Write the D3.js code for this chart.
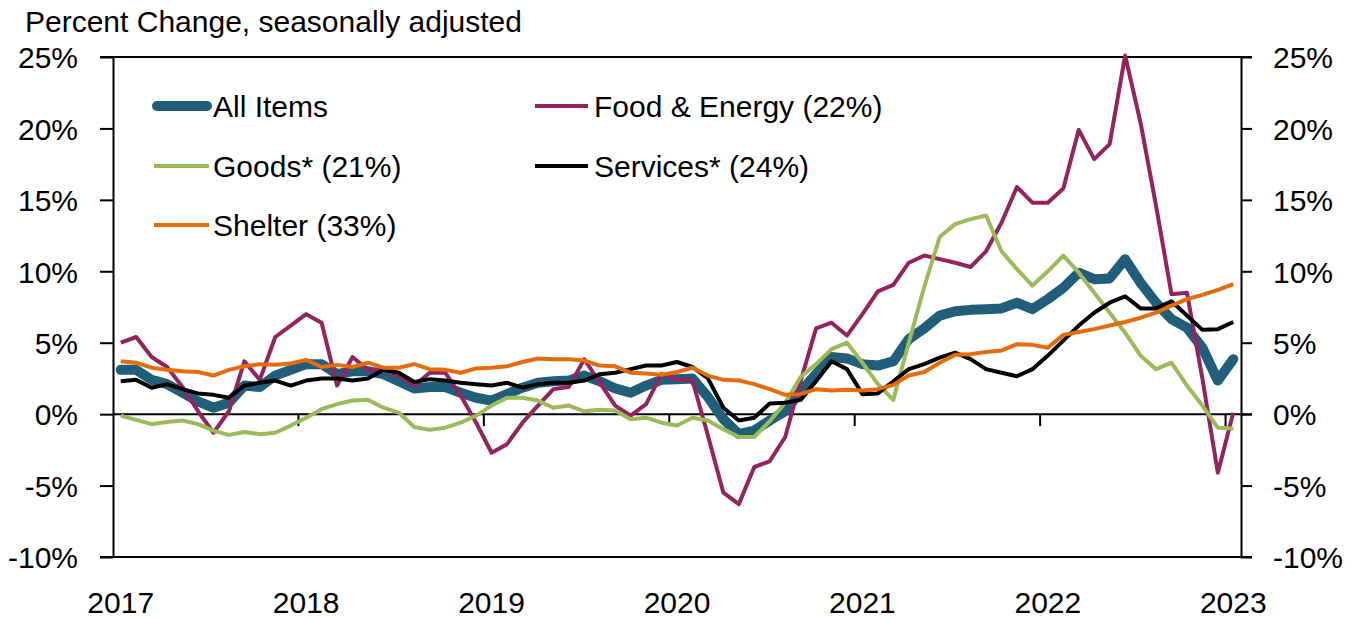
<!DOCTYPE html>
<html>
<head>
<meta charset="utf-8">
<script src="https://cdn.jsdelivr.net/npm/d3@7"></script>
<style>
  html, body { margin: 0; padding: 0; background: #fff; }
  svg { display: block; }
  text { font-family: "Liberation Sans", Arial, sans-serif; fill: #000; }
</style>
</head>
<body>
<svg id="chart" width="1354" height="619"></svg>
<script>
// ---------- DATA (monthly, Jan 2017 .. Jan 2023) ----------
const allItems = [3.1,3.1,2.4,2.1,1.5,0.9,0.45,0.8,2.0,1.9,2.7,3.1,
  3.5,3.5,2.8,3.0,3.0,2.8,2.3,1.8,1.9,1.9,1.5,1.15,
  0.95,1.4,1.85,2.2,2.3,2.35,2.7,2.3,1.8,1.5,2.0,2.4,
  2.45,2.5,1.2,-0.35,-1.4,-1.15,-0.45,0.2,1.6,2.8,4.0,3.9,
  3.5,3.4,3.7,5.25,6.0,6.9,7.2,7.3,7.35,7.4,7.8,7.35,
  8.05,8.85,9.9,9.45,9.5,10.85,9.2,7.8,6.65,6.05,4.65,2.35,
  3.85];
const foodEnergy = [5.0,5.4,4.0,3.3,1.9,0.2,-1.3,0.2,3.7,2.4,5.4,6.2,
  7.0,6.4,2.0,4.0,3.1,3.1,2.7,2.0,2.9,2.9,1.3,-0.6,
  -2.7,-2.1,-0.6,0.6,1.75,1.9,3.85,2.2,0.6,-0.1,0.7,2.8,
  2.45,2.35,-1.5,-5.5,-6.3,-3.7,-3.3,-1.6,2.3,6.0,6.4,5.5,
  7.0,8.6,9.05,10.6,11.1,10.85,10.6,10.3,11.4,13.4,15.9,14.8,
  14.8,15.8,19.9,17.85,18.9,25.1,20.4,14.6,8.4,8.5,2.5,-4.1,
  0.1];
const goods = [-0.1,-0.4,-0.7,-0.55,-0.45,-0.7,-1.15,-1.45,-1.25,-1.4,-1.3,-0.8,
  -0.25,0.35,0.7,0.95,1.0,0.45,0.1,-0.9,-1.1,-0.95,-0.6,-0.1,
  0.6,1.15,1.15,0.95,0.45,0.6,0.2,0.3,0.25,-0.35,-0.25,-0.6,
  -0.8,-0.25,-0.45,-1.05,-1.6,-1.6,-0.5,0.8,2.6,3.5,4.55,5.0,
  3.6,2.1,1.0,5.0,8.9,12.4,13.3,13.65,13.9,11.4,10.15,9.0,
  10.0,11.1,9.9,8.5,7.1,5.7,4.1,3.15,3.6,2.0,0.6,-0.95,
  -1.0];
const services = [2.3,2.4,1.85,2.1,1.75,1.45,1.35,1.15,2.0,2.2,2.35,2.0,
  2.35,2.5,2.5,2.35,2.5,3.1,2.9,2.25,2.45,2.35,2.2,2.1,
  2.0,2.2,1.85,2.1,2.2,2.2,2.35,2.8,2.9,3.15,3.4,3.4,
  3.65,3.3,2.5,0.45,-0.45,-0.25,0.75,0.8,1.0,2.3,3.7,3.15,
  1.4,1.45,2.3,3.15,3.5,3.95,4.3,3.85,3.15,2.9,2.65,3.15,
  4.1,5.15,6.2,7.1,7.8,8.25,7.4,7.4,7.9,6.9,5.9,5.95,
  6.45];
const shelter = [3.7,3.6,3.25,3.1,3.0,2.95,2.7,3.1,3.35,3.5,3.45,3.55,
  3.8,3.3,3.45,3.3,3.6,3.25,3.25,3.5,3.15,3.1,2.9,3.2,
  3.25,3.35,3.65,3.9,3.85,3.85,3.75,3.4,3.35,2.9,2.85,2.75,
  2.95,3.25,2.7,2.4,2.35,2.1,1.75,1.35,1.4,1.75,1.65,1.7,
  1.65,1.75,2.05,2.7,2.95,3.6,4.15,4.2,4.35,4.45,4.9,4.85,
  4.65,5.55,5.75,5.95,6.2,6.45,6.75,7.1,7.6,8.05,8.35,8.7,
  9.1];

const yTicks = [-10, -5, 0, 5, 10, 15, 20, 25];
const yearLabels = ["2017","2018","2019","2020","2021","2022","2023"];
const titleText = "Percent Change, seasonally adjusted";

const seriesNames = ["All Items","Food & Energy (22%)","Goods* (21%)","Services* (24%)","Shelter (33%)"];

(function () {
// ---------- LAYOUT ----------
const pL = 113, pR = 1241, pT = 57, pB = 557;
const svg = d3.select("#chart");

const months = d3.timeMonth.range(new Date(2017, 0, 1), new Date(2023, 1, 1)); // 73 months
const x = d3.scaleBand().domain(months.map(d => +d)).range([pL, pR]).paddingInner(0).paddingOuter(0);
const bw = x.bandwidth();
const y = d3.scaleLinear().domain([-10, 25]).range([pB, pT]);

const series = [
  { name: seriesNames[0], values: allItems,   color: "#215E7A", width: 10 },
  { name: seriesNames[1], values: foodEnergy, color: "#93245E", width: 4 },
  { name: seriesNames[2], values: goods,      color: "#9BBB59", width: 4 },
  { name: seriesNames[3], values: services,   color: "#000000", width: 4 },
  { name: seriesNames[4], values: shelter,    color: "#E46C0A", width: 4 }
];

// ---------- AXES ----------
const axisColor = "#000";
svg.append("line").attr("x1", pL - 13).attr("x2", pR + 11).attr("y1", y(25)).attr("y2", y(25))
  .attr("stroke", axisColor).attr("stroke-width", 2);
svg.append("line").attr("x1", pL - 13).attr("x2", pR + 11).attr("y1", y(-10)).attr("y2", y(-10))
  .attr("stroke", axisColor).attr("stroke-width", 2);

const fmt = d => d + "%";
const gL = svg.append("g").attr("transform", `translate(${pL},0)`)
  .call(d3.axisLeft(y).tickValues(yTicks).tickSize(13).tickSizeOuter(0).tickPadding(22).tickFormat(fmt));
const gR = svg.append("g").attr("transform", `translate(${pR},0)`)
  .call(d3.axisRight(y).tickValues(yTicks).tickSize(11).tickSizeOuter(0).tickPadding(21).tickFormat(fmt));
[gL, gR].forEach(g => {
  g.select(".domain").attr("stroke", axisColor).attr("stroke-width", 2);
  g.selectAll(".tick line").attr("stroke", axisColor).attr("stroke-width", 2);
  g.selectAll(".tick text").attr("font-size", 30).attr("font-family", "'Liberation Sans', Arial, sans-serif").attr("dy", "0.36em");
});

svg.append("line").attr("x1", pL).attr("x2", pR + 11).attr("y1", y(0)).attr("y2", y(0))
  .attr("stroke", axisColor).attr("stroke-width", 2);
const janMonths = months.filter(d => d.getMonth() === 0);
svg.append("g").selectAll("line").data(janMonths.slice(1)).join("line")
  .attr("x1", d => x(+d)).attr("x2", d => x(+d))
  .attr("y1", y(0)).attr("y2", y(0) + 12)
  .attr("stroke", axisColor).attr("stroke-width", 2);

svg.append("g").selectAll("text").data(janMonths).join("text")
  .attr("x", d => x(+d) + bw / 2)
  .attr("y", 613)
  .attr("text-anchor", "middle")
  .attr("font-size", 30)
  .text((d, i) => yearLabels[i]);

svg.append("text").attr("x", 25).attr("y", 32).attr("font-size", 30).text(titleText);

// ---------- LINES ----------
const line = d3.line()
  .x((d, i) => x(+months[i]) + bw / 2)
  .y(d => y(d));

svg.append("g").selectAll("path").data(series).join("path")
  .attr("d", s => line(s.values))
  .attr("fill", "none")
  .attr("stroke", s => s.color)
  .attr("stroke-width", s => s.width)
  .attr("stroke-linejoin", "round")
  .attr("stroke-linecap", s => s.width > 5 ? "round" : "butt");

// ---------- LEGEND ----------
const legendPos = [
  { s: 0, x1: 157, x2: 207, ly: 106, tx: 213, ty: 117 },
  { s: 1, x1: 535, x2: 588, ly: 106, tx: 594, ty: 117 },
  { s: 2, x1: 154, x2: 209, ly: 166, tx: 213, ty: 177 },
  { s: 3, x1: 535, x2: 588, ly: 166, tx: 594, ty: 177 },
  { s: 4, x1: 154, x2: 209, ly: 225, tx: 213, ty: 236 }
];
const lg = svg.append("g");
legendPos.forEach(p => {
  const s = series[p.s];
  lg.append("line").attr("x1", p.x1).attr("x2", p.x2).attr("y1", p.ly).attr("y2", p.ly)
    .attr("stroke", s.color).attr("stroke-width", s.width)
    .attr("stroke-linecap", s.width > 5 ? "round" : "butt");
  lg.append("text").attr("x", p.tx).attr("y", p.ty).attr("font-size", 30).text(s.name);
});
})();
</script>
</body>
</html>
